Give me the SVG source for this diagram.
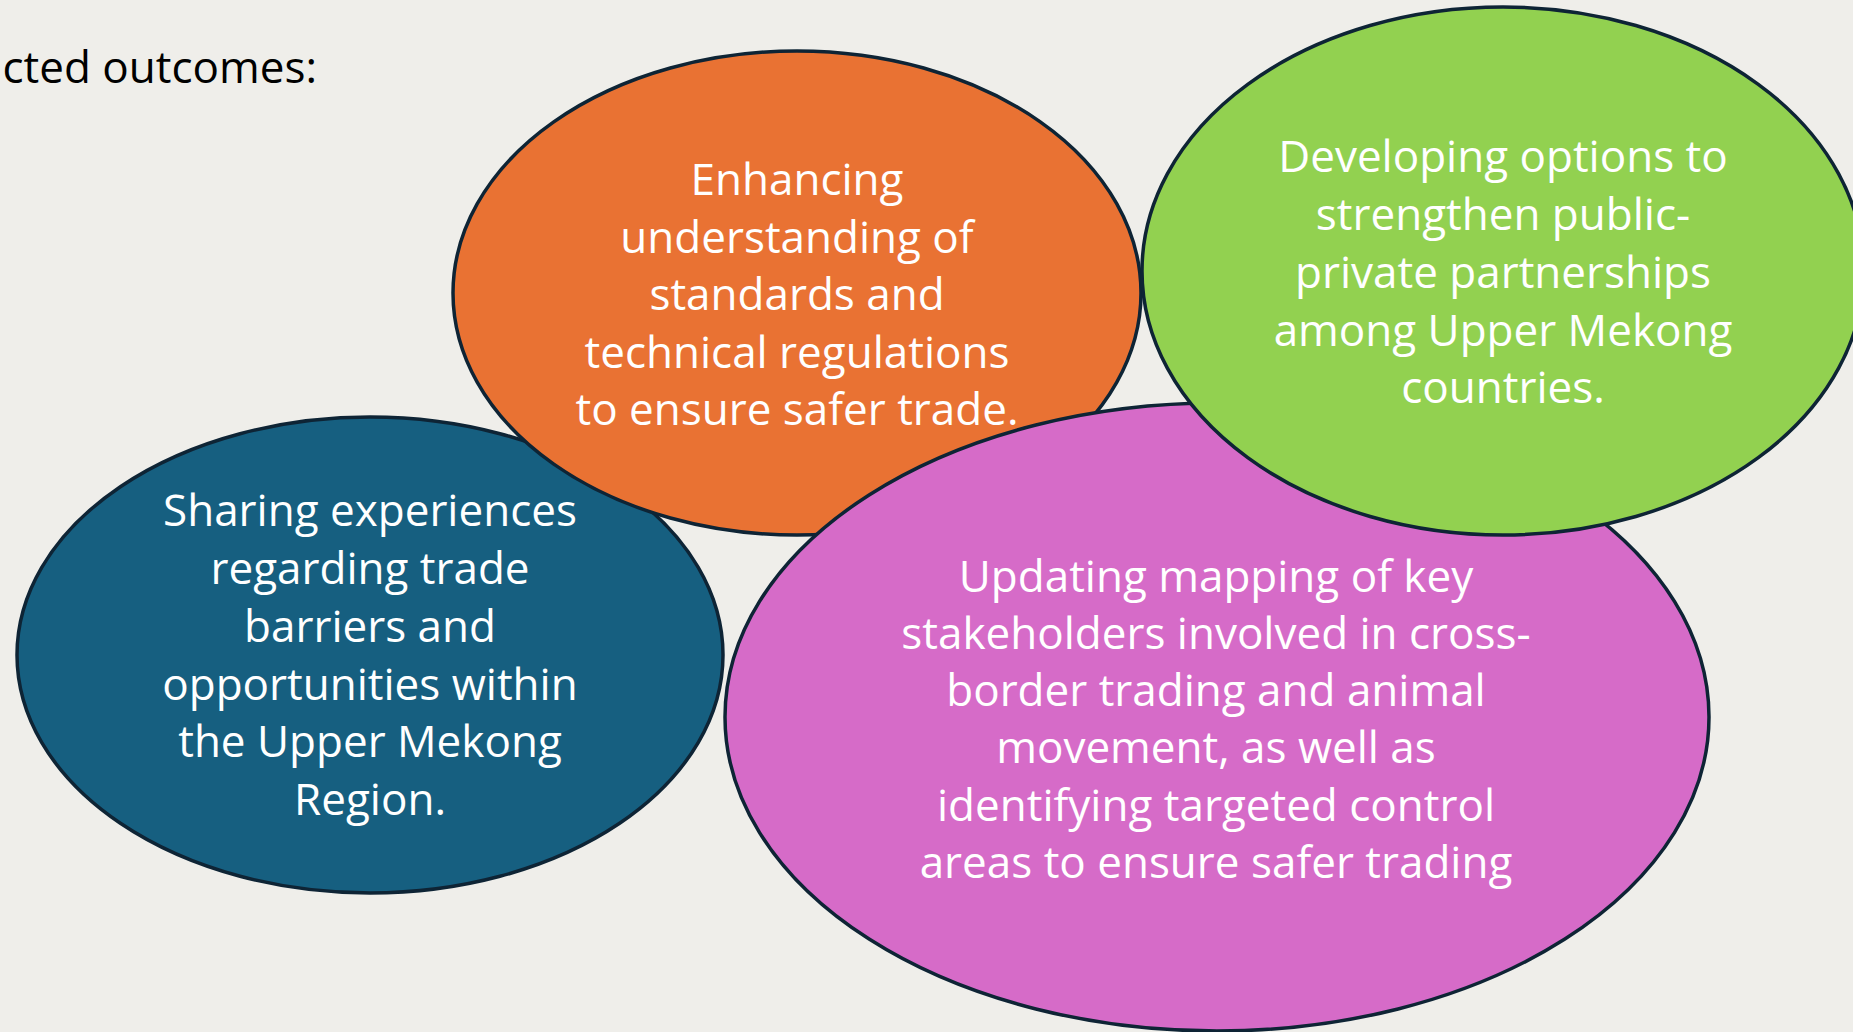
<svg xmlns="http://www.w3.org/2000/svg" width="1853" height="1032" viewBox="0 0 1853 1032">
<style>
.bub{stroke:#0e2435;stroke-width:3.5}
.t{font-family:"Open Sans","Liberation Sans",sans-serif;font-size:44px;fill:#ffffff;text-anchor:middle}
.title{font-family:"Open Sans","Liberation Sans",sans-serif;font-size:44px;fill:#000000;text-anchor:end}
</style>
<rect x="0" y="0" width="1853" height="1032" fill="#efeeea"/>
<text class="title" x="317" y="83">cted outcomes:</text>
<g id="node-sharing">
<ellipse class="bub" cx="370" cy="655" rx="353" ry="238" fill="#165f80"/>
<text class="t"><tspan x="370" y="526">Sharing experiences</tspan><tspan x="370" y="584">regarding trade</tspan><tspan x="370" y="642">barriers and</tspan><tspan x="370" y="700">opportunities within</tspan><tspan x="370" y="757">the Upper Mekong</tspan><tspan x="370" y="815">Region.</tspan></text>
</g>
<g id="node-enhancing">
<ellipse class="bub" cx="797" cy="293" rx="344" ry="242" fill="#e97233"/>
<text class="t"><tspan x="797" y="195">Enhancing</tspan><tspan x="797" y="253">understanding of</tspan><tspan x="797" y="310">standards and</tspan><tspan x="797" y="368">technical regulations</tspan><tspan x="797" y="425">to ensure safer trade.</tspan></text>
</g>
<g id="node-updating">
<ellipse class="bub" cx="1217" cy="717" rx="492" ry="314" fill="#d66bc8"/>
<text class="t"><tspan x="1216" y="592">Updating mapping of key</tspan><tspan x="1216" y="649">stakeholders involved in cross-</tspan><tspan x="1216" y="706">border trading and animal</tspan><tspan x="1216" y="763">movement, as well as</tspan><tspan x="1216" y="821">identifying targeted control</tspan><tspan x="1216" y="878">areas to ensure safer trading</tspan></text>
</g>
<g id="node-developing">
<ellipse class="bub" cx="1503" cy="271" rx="361" ry="264" fill="#92d150"/>
<text class="t"><tspan x="1503" y="172">Developing options to</tspan><tspan x="1503" y="230">strengthen public-</tspan><tspan x="1503" y="288">private partnerships</tspan><tspan x="1503" y="346">among Upper Mekong</tspan><tspan x="1503" y="403">countries.</tspan></text>
</g>
<g id="connectors"></g>
</svg>
